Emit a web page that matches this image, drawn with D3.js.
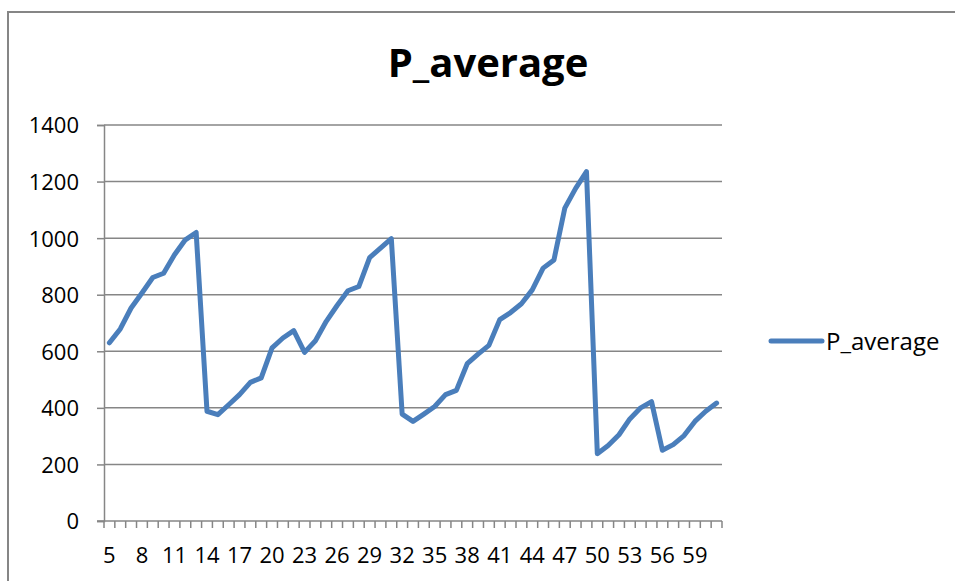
<!DOCTYPE html>
<html>
<head>
<meta charset="utf-8">
<script src="https://cdn.jsdelivr.net/npm/d3@7"></script>
<style>
  html, body { margin: 0; padding: 0; background: #ffffff; }
  svg { display: block; }
  text { font-family: "Open Sans", "Liberation Sans", sans-serif; fill: #000; }
</style>
</head>
<body>
<script>
const seriesName = "P_average";
const categories = d3.range(5, 62);
const values = [
  630, 679, 753, 806, 861, 876, 941, 994, 1020, 388,
  376, 411, 447, 490, 506, 612, 647, 673, 596, 637,
  706, 762, 814, 829, 931, 965, 998, 378, 352, 378,
  405, 447, 462, 556, 590, 621, 712, 737, 768, 817,
  894, 923, 1106, 1176, 1235, 238, 267, 305, 361, 400,
  422, 250, 270, 302, 352, 388, 417
];
const yTicks = [0, 200, 400, 600, 800, 1000, 1200, 1400];
const xLabelEvery = 3;

const W = 955, H = 581;
const plot = { left: 104, right: 722, top: 125, bottom: 521 };
const gridColor = "#868686";
const lineColor = "#4a7ebb";

const svg = d3.select("body").append("svg").attr("width", W).attr("height", H);

// outer chart border
svg.append("rect")
  .attr("x", 8).attr("y", 12).attr("width", W + 20).attr("height", H + 20)
  .attr("fill", "none").attr("stroke", gridColor).attr("stroke-width", 2);

// title
svg.append("text")
  .attr("x", 488).attr("y", 77)
  .attr("text-anchor", "middle")
  .style("font-size", "40px").style("font-weight", "bold")
  .text(seriesName);

const x = d3.scaleBand().domain(categories).range([plot.left, plot.right]).padding(0);
const y = d3.scaleLinear().domain([0, 1400]).range([plot.bottom, plot.top]);

// gridlines
svg.append("g").selectAll("line").data(yTicks.filter(d => d > 0)).join("line")
  .attr("x1", plot.left).attr("x2", plot.right)
  .attr("y1", d => y(d)).attr("y2", d => y(d))
  .attr("stroke", gridColor).attr("stroke-width", 1.5);

// y axis
const yAxis = svg.append("g").attr("transform", `translate(${plot.left},0)`)
  .call(d3.axisLeft(y).tickValues(yTicks).tickFormat(d3.format("d")).tickSize(7).tickPadding(18));
yAxis.select(".domain").attr("stroke", gridColor).attr("stroke-width", 1.5);
yAxis.selectAll(".tick line").attr("stroke", gridColor).attr("stroke-width", 1.5);
yAxis.selectAll(".tick text")
  .style("font-size", "22px").style("font-family", "'Open Sans', sans-serif")
  .attr("fill", "#000").attr("dy", "0.36em");

// x axis
const xAxisG = svg.append("g").attr("transform", `translate(0,${plot.bottom})`);
xAxisG.append("line")
  .attr("x1", plot.left - 7).attr("x2", plot.right)
  .attr("y1", 0).attr("y2", 0)
  .attr("stroke", gridColor).attr("stroke-width", 1.5);
const boundaries = categories.map(c => x(c)).concat([plot.right]);
xAxisG.selectAll("line.tk").data(boundaries).join("line").attr("class", "tk")
  .attr("x1", d => d).attr("x2", d => d).attr("y1", 0).attr("y2", 7)
  .attr("stroke", gridColor).attr("stroke-width", 1.5);
xAxisG.selectAll("text").data(categories.filter((c, i) => i % xLabelEvery === 0)).join("text")
  .attr("x", d => x(d) + x.bandwidth() / 2)
  .attr("y", 42)
  .attr("text-anchor", "middle")
  .style("font-size", "22px")
  .text(d => d);

// line
const line = d3.line()
  .x((d, i) => x(categories[i]) + x.bandwidth() / 2)
  .y(d => y(d));
svg.append("path").datum(values)
  .attr("d", line)
  .attr("fill", "none")
  .attr("stroke", lineColor)
  .attr("stroke-width", 5)
  .attr("stroke-linejoin", "round")
  .attr("stroke-linecap", "round");

// legend
const lg = svg.append("g");
lg.append("line")
  .attr("x1", 771).attr("x2", 822).attr("y1", 341).attr("y2", 341)
  .attr("stroke", lineColor).attr("stroke-width", 5).attr("stroke-linecap", "round");
lg.append("text")
  .attr("x", 826).attr("y", 341).attr("dy", "0.36em")
  .style("font-size", "24px")
  .text(seriesName);
</script>
</body>
</html>
